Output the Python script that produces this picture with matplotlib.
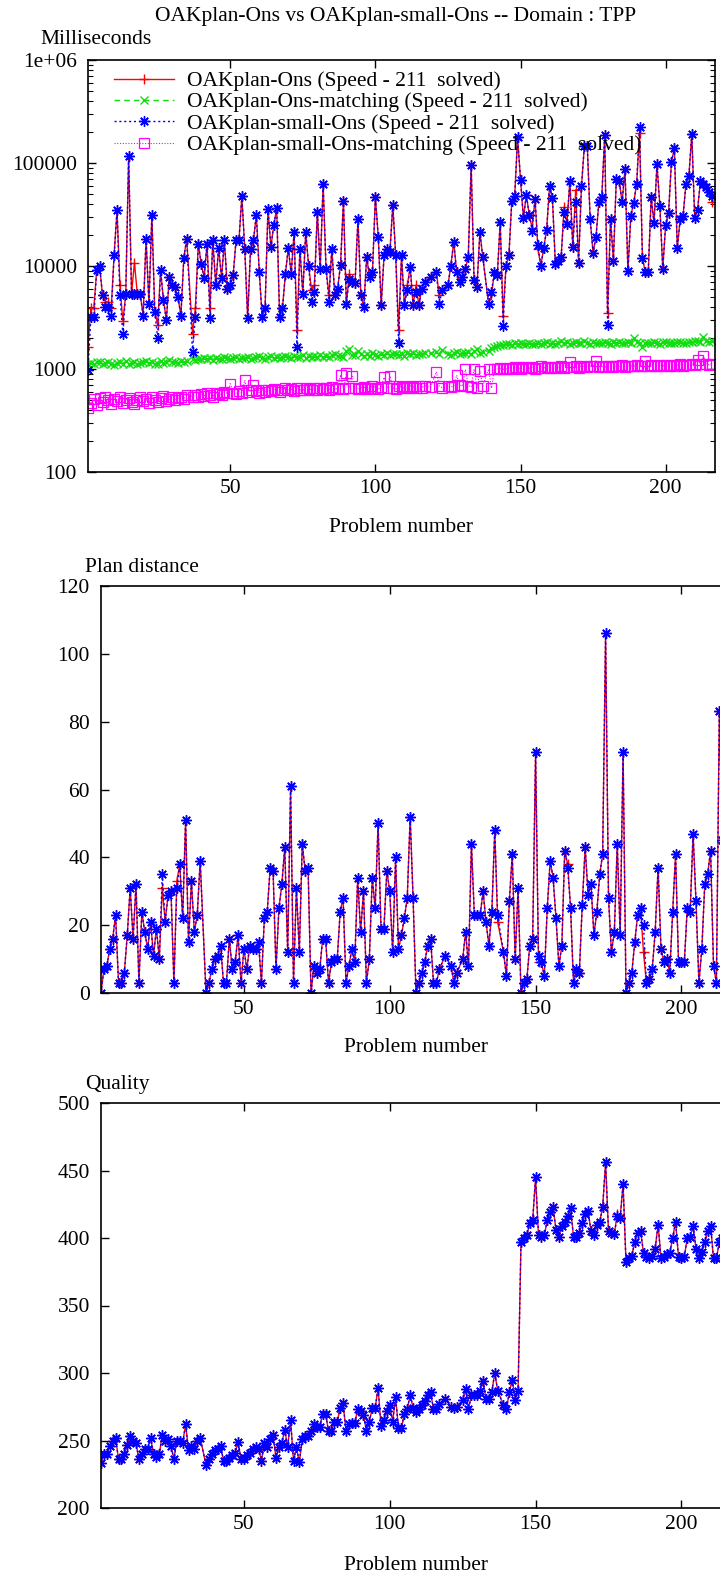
"""OAKplan-Ons vs OAKplan-small-Ons on the TPP domain: time, plan distance, quality"""
import matplotlib
matplotlib.use("Agg")
import matplotlib.pyplot as plt
from matplotlib.ticker import FixedLocator, LogLocator, NullFormatter, FuncFormatter

plt.rcParams['font.family'] = ['Liberation Serif', 'DejaVu Serif']
plt.rcParams['font.size'] = 15.5

# solved problem numbers (5 of 216 unsolved)
problems = [p for p in range(1, 217) if p not in (36, 118, 120, 124, 138)]

# ---- milliseconds (log scale) ----
small_ons_ms = [
    980, 3200, 3200, 9100, 10000, 5200, 4000, 4000, 3300, 12900,
    34600, 5200, 2200, 5300, 118000, 5400, 5400, 5300, 5300, 3300,
    18400, 4300, 31400, 3600, 2000, 9100, 4650, 3000, 7800, 6500,
    6200, 5000, 3300, 11900, 18400,
    1470, 3200, 16500, 10500, 7700, 16500, 3100, 17700, 6600, 14900,
    7700, 17700, 6000, 6500, 8100, 17700, 17700, 47500, 14700, 3100,
    14700, 17700, 31400, 8750, 3200, 3900, 35900, 15300, 24800, 36400,
    3200, 3900, 8400, 14900,
    8430, 21300, 1640, 14700, 5400, 21300, 10100, 4490, 5600, 33800,
    9420, 62700, 9420, 4490, 14700, 5200, 6040, 10300, 43200, 4230,
    7530, 7000, 6900, 28700, 5200, 4010, 12200, 7830, 8750, 46600,
    19100, 4160, 12700, 14700, 13600, 39200, 12700, 1770, 12700, 4160,
    5820, 9800, 4160, 5600, 4160, 6040, 7000, 7830, 8750, 4230,
    5820, 6500, 10100, 17100, 8750, 7000, 7830, 9420, 12200, 95700,
    7260, 6270, 21300, 12200, 4320, 5600, 8750, 8130, 26700, 2600,
    10100,
    12700, 43200, 48300, 177000, 69000, 29200, 49000, 31400, 22100, 44800,
    16100, 10100, 14900, 22600, 59400, 45500, 10500, 11100, 12200, 33300,
    25700, 67400, 15300, 41600, 10800, 59400, 147000, 147000, 28300, 13500,
    19100, 42200, 46600, 187000, 2700, 28700, 11300, 70000, 67400, 41600,
    87500, 8870, 30900, 41000, 62700, 226000, 11900, 8750, 8650, 46600,
    26200, 97700, 38600, 9420, 25100, 32800, 103000, 139000, 14900, 28300,
    30900, 62700, 74300, 191000, 29200, 35300, 67400, 62700, 58200, 52000,
    48300,
]
# problems where the OAKplan-Ons point sits apart from the small-Ons one
ons_ms_diff = {1: 1650, 2: 3900, 3: 3900, 7: 4500, 8: 4500, 9: 3900, 12: 6500,
               13: 2900, 17: 10800, 25: 2700, 37: 2200, 38: 3900, 43: 3900,
               73: 2400, 78: 5900, 79: 6500, 84: 5200, 91: 8400, 108: 2400,
               111: 6500, 114: 6500, 122: 5200, 140: 5200, 144: 3300,
               154: 23500, 156: 14500, 165: 37000, 169: 55000, 180: 3460,
               191: 195000, 216: 42000}
ons_ms = [ons_ms_diff.get(p, v) for p, v in zip(problems, small_ons_ms)]

ons_matching_ms = [
    1130, 1150, 1120, 1180, 1160, 1110, 1140, 1170, 1120, 1100,
    1150, 1160, 1130, 1190, 1120, 1140, 1170, 1130, 1150, 1180,
    1200, 1140, 1160, 1120, 1130, 1190, 1150, 1170, 1210, 1160,
    1180, 1150, 1200, 1170, 1190,
    1250, 1230, 1260, 1240, 1270, 1250, 1280, 1230, 1290, 1260,
    1250, 1300, 1270, 1240, 1280, 1310, 1260, 1290, 1270, 1320,
    1250, 1280, 1300, 1330, 1290, 1260, 1310, 1340, 1280, 1300,
    1270, 1320, 1350,
    1310, 1290, 1340, 1300, 1320, 1360, 1280, 1330, 1310, 1350,
    1300, 1370, 1320, 1340, 1300, 1360, 1390, 1330, 1350, 1310,
    1480, 1560, 1380, 1360, 1510, 1400, 1350, 1390, 1330, 1420,
    1370, 1350, 1400, 1380, 1430, 1360, 1390, 1410, 1370, 1400,
    1350, 1420, 1390, 1440, 1380, 1410, 1400, 1430,
    1420, 1450, 1400, 1540, 1410, 1380, 1430, 1470, 1400, 1440,
    1420, 1460, 1390, 1480, 1560, 1430, 1450, 1510, 1600, 1650,
    1680, 1700, 1720,
    1740, 1760, 1720, 1780, 1750, 1770, 1730, 1760, 1790, 1740,
    1760, 1800, 1750, 1770, 1820, 1760, 1790, 1740, 1800, 1860,
    1780, 1810, 1760, 1790, 1830, 1770, 1800, 1850, 1780, 1760,
    1810, 1790, 1770, 1800, 1830, 1780, 1760, 1820, 1790, 1810,
    1770, 1800, 1840, 1780, 1990, 1810, 1790, 1620, 1770, 1800,
    1780, 1820, 1790, 1760, 1810, 1830, 1790, 1800, 1780, 1820,
    1840, 1800, 1790, 1830, 1810, 1850, 1870, 1820, 2050, 1880,
    1840, 1860,
]

small_ons_matching_ms = [
    420, 470, 510, 450, 520, 480, 530, 500, 460, 510,
    490, 530, 470, 500, 520, 480, 460, 500, 530, 490,
    510, 470, 540, 500, 480, 520, 550, 490, 510, 530,
    500, 520, 540, 510, 560,
    540, 560, 530, 570, 550, 580, 560, 540, 590, 570,
    560, 600, 580, 720, 590, 570, 610, 590, 780, 600,
    620, 700, 610, 590, 630, 600, 620, 610, 640, 620,
    600, 630, 650,
    620, 640, 610, 650, 630, 620, 660, 640, 630, 650,
    620, 660, 640, 650, 630, 670, 640, 650, 880, 640,
    910, 660, 850, 650, 640, 660, 670, 640, 650, 680,
    660, 640, 670, 830, 650, 860, 660, 640, 680, 670,
    650, 660, 690, 670, 650, 680, 660, 690,
    670, 940, 680, 660, 690, 670, 680, 870, 700, 680,
    990, 690, 670, 1000, 660, 960, 680, 1000, 650, 1010,
    1000, 1020, 990,
    1010, 1030, 1000, 1040, 1020, 1010, 1050, 1030, 1020, 1040,
    1010, 1030, 1060, 1020, 1040, 1030, 1050, 1020, 1040, 1060,
    1030, 1050, 1180, 1040, 1060, 1030, 1080, 1050, 1040, 1070,
    1060, 1200, 1050, 1070, 1040, 1060, 1080, 1050, 1070, 1060,
    1090, 1050, 1070, 1080, 1060, 1100, 1070, 1080, 1190, 1060,
    1090, 1070, 1080, 1100, 1070, 1090, 1080, 1100, 1070, 1090,
    1110, 1080, 1100, 1090, 1120, 1100, 1230, 1110, 1350, 1120,
    1100, 1130,
]

# ---- plan distance ----
small_ons_dist = [
    0, 7, 8, 13, 16, 23, 3, 3, 6, 17, 31, 16, 32, 3, 24, 18, 13, 21, 11, 19,
    10, 35, 21, 29, 30, 3, 31, 38, 22, 51, 15, 33, 18, 23, 39,
    0, 3, 7, 10, 11, 14, 3, 3, 16, 7, 9, 17, 3, 13, 7, 14, 13, 13, 15, 3,
    22, 24, 37, 36, 7, 25, 32, 43, 12, 61, 3, 31, 12, 44, 36, 37, 0, 8, 6, 7,
    16, 16, 3, 9, 10, 10, 24, 28, 3, 8, 13, 9, 34, 18, 30, 3, 10, 34, 25, 50,
    19, 19, 36, 30, 12, 40, 13, 17, 22, 28, 52, 28, 0, 3, 6, 9, 14, 16, 3, 3, 7,
    11, 8, 3, 6, 10, 18, 8, 44, 23, 23, 23, 30, 21, 14, 24, 48, 23,
    12, 5, 27, 41, 10, 31, 0, 3, 4, 14, 16, 71, 11, 9, 5, 25, 39, 34, 22, 8,
    14, 42, 37, 25, 3, 7, 6, 26, 43, 29, 32, 17, 24, 35, 41, 106, 28, 12, 18, 44,
    17, 71, 0, 3, 6, 15, 23, 25, 20, 3, 4, 7, 18, 37, 13, 9, 10, 6, 24, 41,
    9, 9, 9, 25, 24, 47, 27, 3, 13, 32, 35, 42, 8, 3, 83, 45, 20, 12,
]
ons_dist_diff = {22: 31, 27: 33, 137: 21, 151: 9, 161: 38, 187: 12}
ons_dist = [ons_dist_diff.get(p, v) for p, v in zip(problems, small_ons_dist)]

# ---- quality ----
small_ons_quality = [
    233, 240, 240, 246, 250, 252, 236, 236, 240, 247, 253, 250, 248, 236, 240,
    244, 244, 252, 240, 238, 240, 254, 250, 251, 246, 236, 250, 250, 248, 262,
    243, 246, 244, 250, 252,
    232, 236, 240, 243, 244, 246, 235, 235, 237, 239, 241, 249, 236, 236, 239,
    241, 244, 245, 244, 235, 248, 245, 251, 254, 237, 245, 248, 258, 245, 265,
    235, 245, 234, 251, 253, 253, 257, 262, 260, 260, 270, 270, 257, 257, 264,
    264, 274, 278, 257, 262, 263, 263, 273, 272, 269, 257, 264, 274, 274, 289,
    261, 265, 272, 276, 264, 282, 259, 259, 270, 273, 284, 274, 271, 273, 276,
    279, 284, 286, 273, 273, 277,
    281, 275, 274, 275, 280, 288, 273, 284, 284, 284, 287, 294, 281, 281, 286,
    300, 287,
    276, 273, 286, 295, 280, 287, 397, 400, 402, 411, 413, 445, 402, 401, 402,
    413, 419, 423, 406, 401, 409, 412, 416, 422, 401, 401, 404, 411, 418, 420,
    405, 402, 410, 412, 423, 456, 405, 404, 403, 416, 415, 440, 382, 385, 387,
    397, 404, 405, 389, 386, 385, 387, 392, 410, 385, 386, 388, 389, 400, 412,
    386, 385, 386, 400, 401, 409, 392, 385, 390, 397, 405, 409, 385, 385, 397,
    400, 392, 388,
]
ons_quality_diff = {178: 418}
ons_quality = [ons_quality_diff.get(p, v) for p, v in zip(problems, small_ons_quality)]

for series in (small_ons_ms, ons_matching_ms, small_ons_matching_ms,
               small_ons_dist, small_ons_quality):
    assert len(series) == len(problems), len(series)

W, H = 720, 1577
fig = plt.figure(figsize=(W / 100, H / 100), dpi=100)


def box(left, top, right, bottom):
    return [left / W, 1 - bottom / H, (right - left) / W, (bottom - top) / H]


red = dict(color='#ff0000', ls='-', lw=1.0, marker='+', ms=7, mew=1.0)
green = dict(color='#11dd11', ls=(0, (4, 3)), lw=1.0, marker='x', ms=5.5, mew=1.0)
blue = dict(color='#0000ff', ls=(0, (1.5, 2)), lw=1.0, marker=(8, 2, 0), ms=7.5, mew=1.0)
magenta = dict(color='#ff00ff', ls=(0, (1, 1.5)), lw=0.8, marker='s', ms=6.5,
               mew=0.9, mfc='none')


def style_axes(ax):
    for s in ax.spines.values():
        s.set_linewidth(1.2)
    ax.tick_params(which='both', direction='in', top=True, right=True)
    ax.tick_params(which='major', length=6, width=1)
    ax.tick_params(which='minor', length=3.5, width=0.8)
    ax.tick_params(axis='y', pad=8)
    ax.tick_params(axis='x', pad=5)
    ax.set_xlim(1, 217)
    ax.xaxis.set_major_locator(FixedLocator([50, 100, 150, 200]))


# top panel: time
ax1 = fig.add_axes(box(88, 60, 715, 472))
ax1.plot(problems, ons_ms, label='OAKplan-Ons (Speed - 211  solved)', **red)
ax1.plot(problems, ons_matching_ms, label='OAKplan-Ons-matching (Speed - 211  solved)', **green)
ax1.plot(problems, small_ons_ms, label='OAKplan-small-Ons (Speed - 211  solved)', **blue)
ax1.plot(problems, small_ons_matching_ms,
         label='OAKplan-small-Ons-matching (Speed - 211  solved)', **magenta)
ax1.set_yscale('log')
ax1.set_ylim(100, 1e6)
style_axes(ax1)
ax1.yaxis.set_major_locator(LogLocator(base=10, numticks=10))
ax1.yaxis.set_minor_locator(LogLocator(base=10, subs=range(2, 10), numticks=20))
ax1.yaxis.set_minor_formatter(NullFormatter())
ax1.yaxis.set_major_formatter(FuncFormatter(lambda v, _: '1e+06' if v >= 1e6 else f'{int(round(v))}'))
ax1.legend(loc='upper left', bbox_to_anchor=(26 / 627, 1 - 11 / 412), borderaxespad=0,
           borderpad=0, frameon=False, handlelength=2.8, handletextpad=0.6,
           labelspacing=0.06, numpoints=1)

# middle panel: plan distance
ax2 = fig.add_axes(box(101, 586, 731, 993))
ax2.plot(problems, ons_dist, **red)
ax2.plot(problems, small_ons_dist, **blue)
ax2.set_ylim(0, 120)
style_axes(ax2)
ax2.yaxis.set_major_locator(FixedLocator(range(0, 121, 20)))

# bottom panel: quality
ax3 = fig.add_axes(box(101, 1103, 731, 1508))
ax3.plot(problems, ons_quality, **red)
ax3.plot(problems, small_ons_quality, **blue)
ax3.set_ylim(200, 500)
style_axes(ax3)
ax3.yaxis.set_major_locator(FixedLocator(range(200, 501, 50)))

fig.text(396 / W, 1 - 16 / H, 'OAKplan-Ons vs OAKplan-small-Ons -- Domain : TPP',
         ha='center', va='center')
fig.text(40 / W, 1 - 40 / H, 'Milliseconds', ha='left', va='center')
fig.text(85 / W, 1 - 567 / H, 'Plan distance', ha='left', va='center')
fig.text(85 / W, 1 - 1084 / H, 'Quality', ha='left', va='center')
for xc, yc in ((401, 528), (416, 1047), (416, 1565)):
    fig.text(xc / W, 1 - yc / H, 'Problem number', ha='center', va='center')

fig.savefig('out.png', dpi=100)
